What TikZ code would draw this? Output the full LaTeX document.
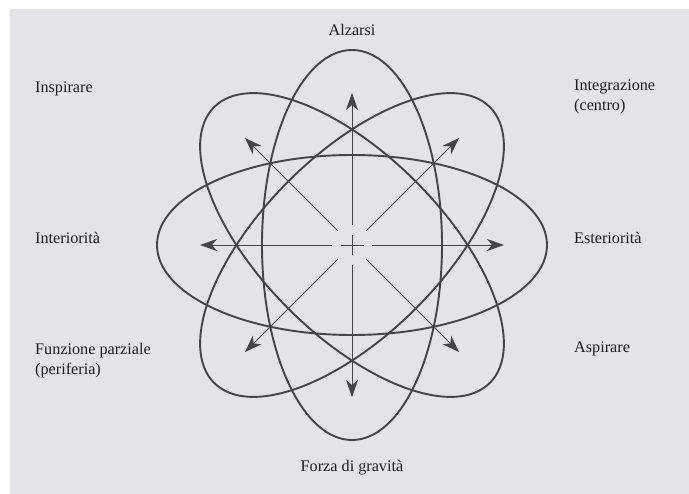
\documentclass[tikz,border=0pt]{standalone}
\usepackage{fontspec}
\setmainfont{Liberation Serif}
\usetikzlibrary{arrows.meta}
\definecolor{bg}{RGB}{226,228,232}
\definecolor{ink}{RGB}{68,68,74}
\definecolor{txt}{RGB}{30,30,35}
\begin{document}
\begin{tikzpicture}[x=1pt,y=-1pt,
  orbit/.style={draw=ink, line width=1.9pt},
  ray/.style={draw=ink, line width=0.9pt, -{Stealth[length=17pt,width=12pt,inset=5pt]}},
  crossmark/.style={draw=ink, line width=0.9pt},
  lbl/.style={text=txt, font=\fontsize{16.2}{20.5}\selectfont, inner sep=0pt},
]
\useasboundingbox (0,0) rectangle (689,494);
\fill[white] (0,0) rectangle (689,494);
\fill[bg] (10,9) rectangle (689,494);

\node[circle, minimum size=40pt, inner sep=0pt] (c) at (352,245) {};

\foreach \a in {0,45,90,135}
  \draw[orbit, rotate around={\a:(c.center)}] (c.center) ellipse [x radius=195pt, y radius=90pt];

\coordinate (tE)  at (504,245);
\coordinate (tNE) at (459,138);
\coordinate (tN)  at (352,93);
\coordinate (tNW) at (245,138);
\coordinate (tW)  at (200,245);
\coordinate (tSW) at (245,352);
\coordinate (tS)  at (352,397);
\coordinate (tSE) at (459,352);

\foreach \t in {tE,tNE,tN,tNW,tW,tSW,tS,tSE}
  \draw[ray] (c) -- (\t);

\draw[crossmark] ([xshift=-11.5pt]c.center) -- ([xshift=11.5pt]c.center);
\draw[crossmark] ([yshift=-10pt]c.center) -- ([yshift=10pt]c.center);

\node[lbl, anchor=base] (alz) at (352,36) {Alzarsi};
\node[lbl, anchor=base west] (insp) at (35,93) {Inspirare};
\node[lbl, anchor=base west, align=left] (integ) at (574,111) {Integrazione\\(centro)};
\node[lbl, anchor=base west] (inter) at (35,244) {Interiorità};
\node[lbl, anchor=base west] (ester) at (574,244) {Esteriorità};
\node[lbl, anchor=base west, align=left] (funz) at (35,375) {Funzione parziale\\(periferia)};
\node[lbl, anchor=base west] (asp) at (574,353) {Aspirare};
\node[lbl, anchor=base] (forza) at (352,472) {Forza di gravità};
\end{tikzpicture}
\end{document}
